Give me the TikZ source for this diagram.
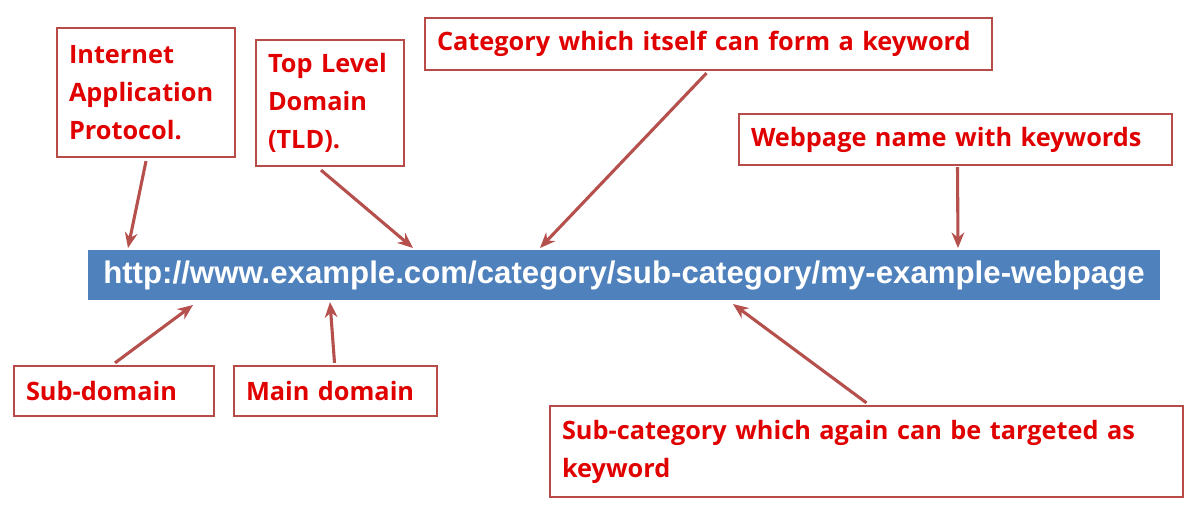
\documentclass[tikz,border=0pt]{standalone}
\usepackage{fontspec}
\setmainfont{Open Sans}
\newfontfamily\barfont{Liberation Sans}
\usetikzlibrary{arrows.meta}
\definecolor{boxline}{HTML}{B84A47}
\definecolor{txtred}{HTML}{E00000}
\definecolor{barblue}{HTML}{4F81BD}
\definecolor{arr}{HTML}{B5504D}
\begin{document}
\begin{tikzpicture}[x=0.025cm,y=-0.025cm,
  lbl/.style={draw=boxline,line width=1.6pt,fill=white,text=txtred,font=\bfseries\fontsize{18}{27}\selectfont,align=left,inner sep=0pt},
  arw/.style={draw=arr,line width=2.2pt,-{Stealth[length=11pt,width=9pt]}}]
\useasboundingbox (0,0) rectangle (1200,528);
\fill[white] (0,0) rectangle (1200,528);
\node[fill=barblue,minimum width=1072*0.025cm,minimum height=50*0.025cm,inner sep=0pt,text=white,font=\barfont\bfseries\fontsize{22.2}{24}\selectfont] (bar) at (624,275) {http://www.example.com/category/sub-category/my-example-webpage};
\node[lbl,minimum width=178*0.025cm,minimum height=129*0.025cm,text width=154*0.025cm] (iap) at (146,92.5) {Internet\\Application\\Protocol.};
\node[lbl,minimum width=148*0.025cm,minimum height=126*0.025cm,text width=124*0.025cm] (tld) at (330,103) {Top Level\\Domain\\(TLD).};
\node[lbl,minimum width=567*0.025cm,minimum height=52*0.025cm,text width=543*0.025cm] (cat) at (708.5,44) {Category which itself can form a keyword};
\node[lbl,minimum width=433*0.025cm,minimum height=51*0.025cm,text width=409*0.025cm] (web) at (955.5,139.5) {Webpage name with keywords};
\node[lbl,minimum width=200*0.025cm,minimum height=50*0.025cm,text width=176*0.025cm] (sub) at (114,391) {Sub-domain};
\node[lbl,minimum width=203*0.025cm,minimum height=50*0.025cm,text width=179*0.025cm] (main) at (335.5,391) {Main domain};
\node[lbl,minimum width=633*0.025cm,minimum height=91*0.025cm,text width=609*0.025cm] (subcat) at (866.5,451.5) {Sub-category which again can be targeted as\\keyword};
\coordinate (a1) at (128,248);
\coordinate (a2) at (413,248);
\coordinate (a3) at (540,248);
\coordinate (a4) at (958,248);
\coordinate (b1) at (193,305);
\coordinate (b2) at (330,302);
\coordinate (b3) at (733,304);
\draw[arw] (iap.south) ++(0,3) -- (a1);
\draw[arw] (tld.south) ++(-9,3) -- (a2);
\draw[arw] (cat.south) ++(-2,2) -- (a3);
\draw[arw] (web.south) ++(2,1) -- (a4);
\draw[arw] (sub.north) ++(1,-2) -- (b1);
\draw[arw] (main.north) ++(-1,-2) -- (b2);
\draw[arw] (subcat.north) ++(0,-2) -- (b3);
\end{tikzpicture}
\end{document}
